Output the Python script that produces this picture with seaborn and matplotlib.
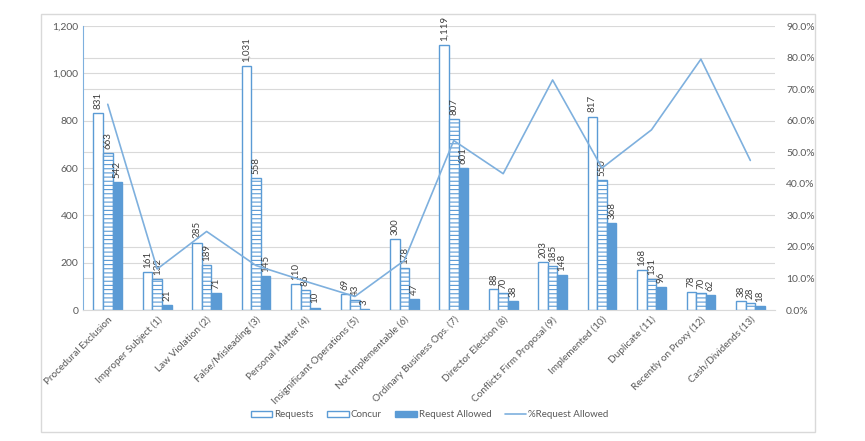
import numpy as np
import pandas as pd
import matplotlib
matplotlib.use("Agg")
import matplotlib.pyplot as plt
import seaborn as sns
from matplotlib.patches import Patch, Rectangle
from matplotlib.lines import Line2D
from matplotlib.ticker import FuncFormatter, PercentFormatter

categories = ["Procedural Exclusion", "Improper Subject (1)", "Law Violation (2)",
              "False/Misleading (3)", "Personal Matter (4)", "Insignificant Operations (5)",
              "Not Implementable (6)", "Ordinary Business Ops. (7)", "Director Election (8)",
              "Conflicts Firm Proposal (9)", "Implemented (10)", "Duplicate (11)",
              "Recently on Proxy (12)", "Cash/Dividends (13)"]
requests = [831, 161, 285, 1031, 110, 69, 300, 1119, 88, 203, 817, 168, 78, 38]
concur = [663, 132, 189, 558, 86, 43, 178, 807, 70, 185, 550, 131, 70, 28]
allowed = [542, 21, 71, 145, 10, 3, 47, 601, 38, 148, 368, 96, 62, 18]
pct_allowed = [65.2, 13.0, 24.9, 14.1, 9.1, 4.3, 15.7, 53.7, 43.2, 72.9, 45.0, 57.1, 79.5, 47.4]
series = ["Requests", "Concur", "Request Allowed"]

blue = "#5B9BD5"
line_blue = "#7EB0DE"
grid_c = "#D9D9D9"
text_c = "#595959"

sns.set_style("white")
plt.rcParams['font.family'] = ['Lato', 'DejaVu Sans']
plt.rcParams['hatch.color'] = blue
plt.rcParams['hatch.linewidth'] = 0.8

df = pd.DataFrame({
    "category": categories * 3,
    "series": [s for s in series for _ in categories],
    "value": requests + concur + allowed,
})

fig = plt.figure(figsize=(8.65, 4.41), dpi=100)
ax = fig.add_axes([0.096, 0.297, 0.80, 0.644])

sns.barplot(data=df, x="category", y="value", hue="series", hue_order=series,
            order=categories, width=0.58, gap=0, ax=ax, legend=False,
            palette=[blue, blue, blue], saturation=1)

for i, cont in enumerate(ax.containers):
    for p in cont:
        p.set_edgecolor(blue)
        p.set_linewidth(1.0)
        if i == 0:
            p.set_facecolor("white")
        elif i == 1:
            p.set_facecolor("white")
            p.set_hatch("----")
        else:
            p.set_facecolor(blue)
    ax.bar_label(cont, labels=[f"{v:,}" for v in [requests, concur, allowed][i]],
                 rotation=90, padding=3, fontsize=7, color="#404040")

ax.set_ylim(0, 1200)
ax.set_xlim(-0.5, len(categories) - 0.5)
ax.set_yticks(np.arange(0, 1201, 200))
ax.set_yticks(np.linspace(0, 1200, 10), minor=True)
ax.yaxis.set_major_formatter(FuncFormatter(lambda v, p: f"{int(v):,}"))
ax.grid(axis="y", which="both", color=grid_c, linewidth=0.8)
ax.set_axisbelow(True)
ax.set_xlabel("")
ax.set_ylabel("")
ax.tick_params(axis="both", which="both", length=0, labelsize=7.5, labelcolor=text_c)
ax.set_xticks(range(len(categories)))
ax.set_xticklabels(categories, rotation=45, ha="right", rotation_mode="anchor", fontsize=7.2)
for s in ["top", "right"]:
    ax.spines[s].set_visible(False)
ax.spines["left"].set_color(line_blue)
ax.spines["bottom"].set_color(grid_c)

ax2 = ax.twinx()
sns.lineplot(x=np.arange(len(categories)), y=pct_allowed, ax=ax2, color=line_blue,
             linewidth=1.2)
ax2.set_ylim(0, 90)
ax2.set_yticks(np.arange(0, 91, 10))
ax2.yaxis.set_major_formatter(PercentFormatter(decimals=1))
ax2.tick_params(axis="y", length=0, labelsize=7.5, labelcolor=text_c, pad=8)
for s in ax2.spines.values():
    s.set_visible(False)

handles = [
    Patch(facecolor="white", edgecolor=blue, label="Requests"),
    Patch(facecolor="white", edgecolor=blue, label="Concur"),
    Patch(facecolor=blue, edgecolor=blue, label="Request Allowed"),
    Line2D([0], [0], color=line_blue, linewidth=1.2, label="%Request Allowed"),
]
fig.legend(handles=handles, loc="center", bbox_to_anchor=(0.497, 0.059), ncol=4,
           frameon=False, fontsize=7, handlelength=2.2, handleheight=0.6,
           columnspacing=1.4, handletextpad=0.2, labelcolor=text_c)

fig.patches.append(Rectangle((0.047, 0.020), 0.895, 0.948, transform=fig.transFigure,
                             fill=False, edgecolor=grid_c, linewidth=1))

fig.savefig("out.png", dpi=100)
